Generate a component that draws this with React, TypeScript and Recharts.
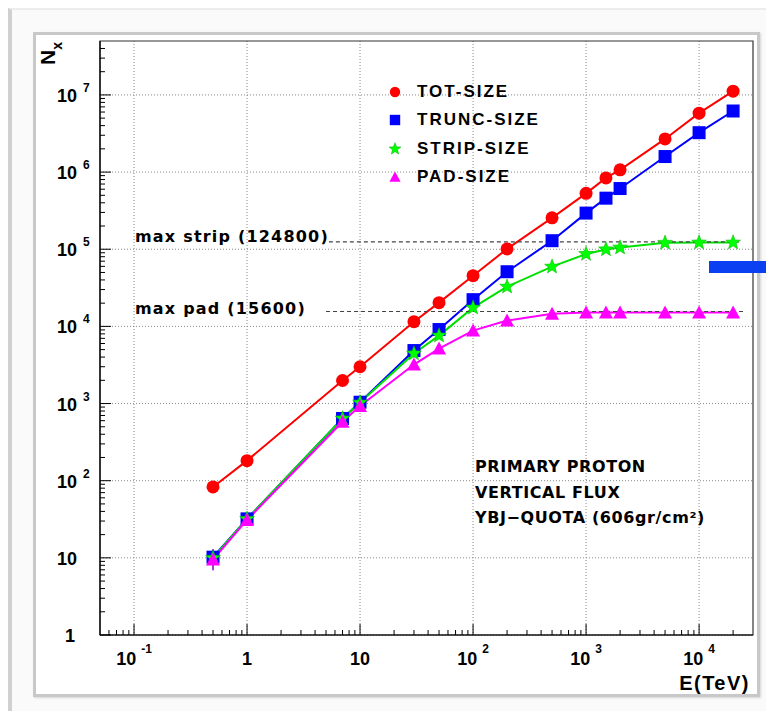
import React from 'react';
import { LineChart, Line, XAxis, YAxis, CartesianGrid, ReferenceLine, ReferenceArea, Legend, ErrorBar } from 'recharts';

// primary proton energy (TeV)
const energies = [0.5, 1, 7, 10, 30, 50, 100, 200, 500, 1000, 1500, 2000, 5000, 10000, 20000];

const totSize = [83, 182, 1990, 3000, 11500, 20300, 45400, 101000, 255000, 530000, 840000, 1070000, 2690000, 5800000, 11200000];
const truncSize = [10.2, 32, 640, 1040, 4860, 9100, 22200, 51100, 129000, 294000, 459000, 612000, 1590000, 3240000, 6190000];
const stripSize = [10, 32, 640, 1030, 4450, 7600, 17500, 32700, 59400, 86700, 99500, 105000, 121000, 122000, 122000];
const padSize = [9.5, 31, 580, 930, 3200, 5160, 8830, 11900, 14600, 15100, 15100, 15100, 15100, 15100, 15100];
const padErr = [[2.6, 3.5], 0, 0, 0, 0, 0, 0, 0, 0, 0, 0, 0, 0, 0, 0];

const seriesNames = ['TOT-SIZE', 'TRUNC-SIZE', 'STRIP-SIZE', 'PAD-SIZE'];
const seriesKeys = ['tot', 'trunc', 'strip', 'pad'];

const xDomain = [0.05, 30000];
const yDomain = [1, 5e7];
const xMajorTicks = [0.1, 1, 10, 100, 1000, 10000];
const yMajorTicks = [1, 10, 100, 1000, 1e4, 1e5, 1e6, 1e7];

const maxStrip = 124800;
const maxPad = 15600;
const stripLineRange = [5.3, 22500];
const padLineRange = [5.0, 25500];

const infoLines = ['PRIMARY PROTON', 'VERTICAL FLUX', 'YBJ\u2212QUOTA (606gr/cm\u00b2)'];

const data = energies.map((e, i) => ({
  e,
  tot: totSize[i],
  trunc: truncSize[i],
  strip: stripSize[i],
  pad: padSize[i],
  padErr: padErr[i],
}));

// 2..9 x 10^n inside (lo, hi)
const minorTicks = (lo: number, hi: number) => {
  const out: number[] = [];
  for (let n = -3; n <= 8; n++) {
    for (let m = 2; m <= 9; m++) {
      const v = Number((m * Math.pow(10, n)).toPrecision(3));
      if (v > lo && v < hi) out.push(v);
    }
  }
  return out;
};

const xTicks = [...xMajorTicks, ...minorTicks(xDomain[0], xDomain[1])].sort((a, b) => a - b);
const yTicks = [...yMajorTicks, ...minorTicks(yDomain[0], yDomain[1])].sort((a, b) => a - b);

const colors: Record<string, string> = { tot: '#ff0000', trunc: '#0000ff', strip: '#00e000', pad: '#ff00ff' };

const tickFont = "'Liberation Sans', Arial, Helvetica, sans-serif";
const comicFont = "'DejaVu Sans', Verdana, sans-serif";

const starPath = (cx: number, cy: number, R: number, r: number) => {
  let d = '';
  for (let k = 0; k < 10; k++) {
    const a = -Math.PI / 2 + (k * Math.PI) / 5;
    const rad = k % 2 ? r : R;
    d += (k ? 'L' : 'M') + (cx + rad * Math.cos(a)).toFixed(2) + ',' + (cy + rad * Math.sin(a)).toFixed(2);
  }
  return d + 'Z';
};

const Marker = ({ kind, cx, cy, s = 1 }: { kind: string; cx: number; cy: number; s?: number }) => {
  if (cx == null || cy == null || isNaN(cx) || isNaN(cy)) return null;
  if (kind === 'tot') return <circle cx={cx} cy={cy} r={6.5 * s} fill="#ff0000" />;
  if (kind === 'trunc') return <rect x={cx - 6.5 * s} y={cy - 6.5 * s} width={13 * s} height={13 * s} fill="#0000ff" />;
  if (kind === 'strip') return <path d={starPath(cx, cy, 7.8 * s, 3.3 * s)} fill="#00ff00" stroke="#00b000" strokeWidth={0.5} />;
  return <path d={`M${cx},${cy - 7 * s}L${cx - 7 * s},${cy + 6 * s}L${cx + 7 * s},${cy + 6 * s}Z`} fill="#ff00ff" />;
};

const dotFor = (kind: string) => (p: any) => (
  <g key={`${kind}-${p.index}`}>
    <Marker kind={kind} cx={p.cx} cy={p.cy} />
  </g>
);

const YTick = (props: any) => {
  const { x, y, payload } = props;
  const v = payload.value;
  const major = yMajorTicks.includes(v);
  if (!major) return <line x1={x} x2={x + 5} y1={y} y2={y} stroke="#000" strokeWidth={1} />;
  const e = Math.round(Math.log10(v));
  return (
    <g>
      <line x1={x} x2={x + 11} y1={y} y2={y} stroke="#000" strokeWidth={1} />
      {e === 0 ? (
        <text x={x - 25} y={y + 7} textAnchor="end" fontFamily={tickFont} fontWeight="bold" fontSize={18} fill="#000">1</text>
      ) : (
        <text x={x - 23} y={y + 7} textAnchor="end" fontFamily={tickFont} fontWeight="bold" fontSize={18} fill="#000">10</text>
      )}
      {e > 1 && (
        <text x={x - 17} y={y - 3} textAnchor="start" fontFamily={tickFont} fontWeight="bold" fontSize={12} fill="#000">{e}</text>
      )}
    </g>
  );
};

const XTick = (props: any) => {
  const { x, y, payload } = props;
  const v = payload.value;
  const major = xMajorTicks.includes(v);
  if (!major) return <line x1={x} x2={x} y1={y} y2={y - 5} stroke="#000" strokeWidth={1} />;
  const e = Math.round(Math.log10(v));
  return (
    <g>
      <line x1={x} x2={x} y1={y} y2={y - 11} stroke="#000" strokeWidth={1} />
      <text x={x} y={y + 30} textAnchor="middle" fontFamily={tickFont} fontWeight="bold" fontSize={18} fill="#000">
        {e === 0 ? '1' : '10'}
        {(e < 0 || e > 1) && (
          <tspan dx={5} dy={-12} fontSize={12}>{e}</tspan>
        )}
      </text>
    </g>
  );
};

const renderLegend = () => (
  <div style={{ fontFamily: tickFont, fontWeight: 'bold', fontSize: 17, letterSpacing: 2, color: '#000' }}>
    {seriesKeys.map((k, i) => (
      <div key={k} style={{ height: 28.3, display: 'flex', alignItems: 'center' }}>
        <svg width={16} height={16} style={{ flex: 'none' }}>
          <Marker kind={k} cx={8} cy={8} s={0.8} />
        </svg>
        <span style={{ marginLeft: 14, whiteSpace: 'nowrap' }}>{seriesNames[i]}</span>
      </div>
    ))}
  </div>
);

export default function App() {
  return (
    <div style={{ position: 'relative', width: 766, height: 703 }}>
      <div style={{ position: 'absolute', left: 0, top: 0, width: 766, height: 703, background: '#fafafa', borderLeft: '4px solid #d0d0d0', borderTop: '2px solid #ededed', boxSizing: 'border-box' }} />
      <div style={{ position: 'absolute', left: 25, top: 24, width: 727, height: 665, background: '#fff', border: '3px solid #c8c8c8', boxSizing: 'border-box', boxShadow: '1px 1px 2px rgba(0,0,0,0.15)' }} />
      <div style={{ position: 'absolute', left: 0, top: 0 }}>
        <LineChart width={766} height={703} data={data} margin={{ top: 33, right: 21, left: 32, bottom: 36 }}>
          <CartesianGrid stroke="#888" strokeDasharray="1 2" horizontalValues={yMajorTicks} verticalValues={xMajorTicks} />
          <XAxis
            dataKey="e"
            type="number"
            scale="log"
            domain={xDomain}
            allowDataOverflow
            ticks={xTicks}
            interval={0}
            tickLine={false}
            tickSize={0}
            tickMargin={0}
            tick={(p: any) => <XTick {...p} />}
            axisLine={{ stroke: '#000', strokeWidth: 1.2 }}
            height={40}
          />
          <YAxis
            type="number"
            scale="log"
            domain={yDomain}
            allowDataOverflow
            ticks={yTicks}
            interval={0}
            tickLine={false}
            tickSize={0}
            tickMargin={0}
            tick={(p: any) => <YTick {...p} />}
            axisLine={{ stroke: '#000', strokeWidth: 1.2 }}
            width={60}
          />
          <ReferenceArea x1={xDomain[0]} x2={xDomain[1]} y1={yDomain[0]} y2={yDomain[1]} fill="none" stroke="#333" strokeWidth={1.2} ifOverflow="visible" />
          <Line dataKey="tot" name={seriesNames[0]} stroke={colors.tot} strokeWidth={2} dot={dotFor('tot')} activeDot={false} isAnimationActive={false} />
          <Line dataKey="trunc" name={seriesNames[1]} stroke={colors.trunc} strokeWidth={2} dot={dotFor('trunc')} activeDot={false} isAnimationActive={false} />
          <Line dataKey="strip" name={seriesNames[2]} stroke={colors.strip} strokeWidth={2} dot={dotFor('strip')} activeDot={false} isAnimationActive={false} />
          <Line dataKey="pad" name={seriesNames[3]} stroke={colors.pad} strokeWidth={2} dot={dotFor('pad')} activeDot={false} isAnimationActive={false}>
            <ErrorBar dataKey="padErr" width={0} stroke="#a040d0" strokeWidth={2} direction="y" isAnimationActive={false} />
          </Line>
          <ReferenceLine segment={[{ x: stripLineRange[0], y: maxStrip }, { x: stripLineRange[1], y: maxStrip }]} stroke="#444" strokeWidth={1.2} strokeDasharray="4 3" />
          <ReferenceLine segment={[{ x: padLineRange[0], y: maxPad }, { x: padLineRange[1], y: maxPad }]} stroke="#444" strokeWidth={1.2} strokeDasharray="4 3" />
          <text x={127} y={234} fontFamily={comicFont} fontWeight="bold" fontSize={16} letterSpacing={1.2} fill="#000">{`max strip (${maxStrip})`}</text>
          <text x={127} y={306} fontFamily={comicFont} fontWeight="bold" fontSize={16} letterSpacing={1.2} fill="#000">{`max pad (${maxPad})`}</text>
          {infoLines.map((t, i) => (
            <text key={t} x={467} y={464 + i * 25.5} fontFamily={comicFont} fontWeight="bold" fontSize={16} letterSpacing={0.6} fill="#000">{t}</text>
          ))}
          <text x={742} y={682} textAnchor="end" fontFamily={tickFont} fontWeight="bold" fontSize={20} letterSpacing={1.5} fill="#000">E(TeV)</text>
          <text x={47} y={34} transform="rotate(-90 47 34)" textAnchor="end" fontFamily={tickFont} fontWeight="bold" fontSize={21} fill="#000">
            N<tspan dy={7} fontSize={14}>x</tspan>
          </text>
          <Legend layout="vertical" align="center" verticalAlign="middle" content={renderLegend} wrapperStyle={{ left: 379, top: 70, width: 220 }} />
        </LineChart>
      </div>
      <div style={{ position: 'absolute', left: 701, top: 253, width: 73, height: 12, background: '#0b3ff2' }} />
    </div>
  );
}
